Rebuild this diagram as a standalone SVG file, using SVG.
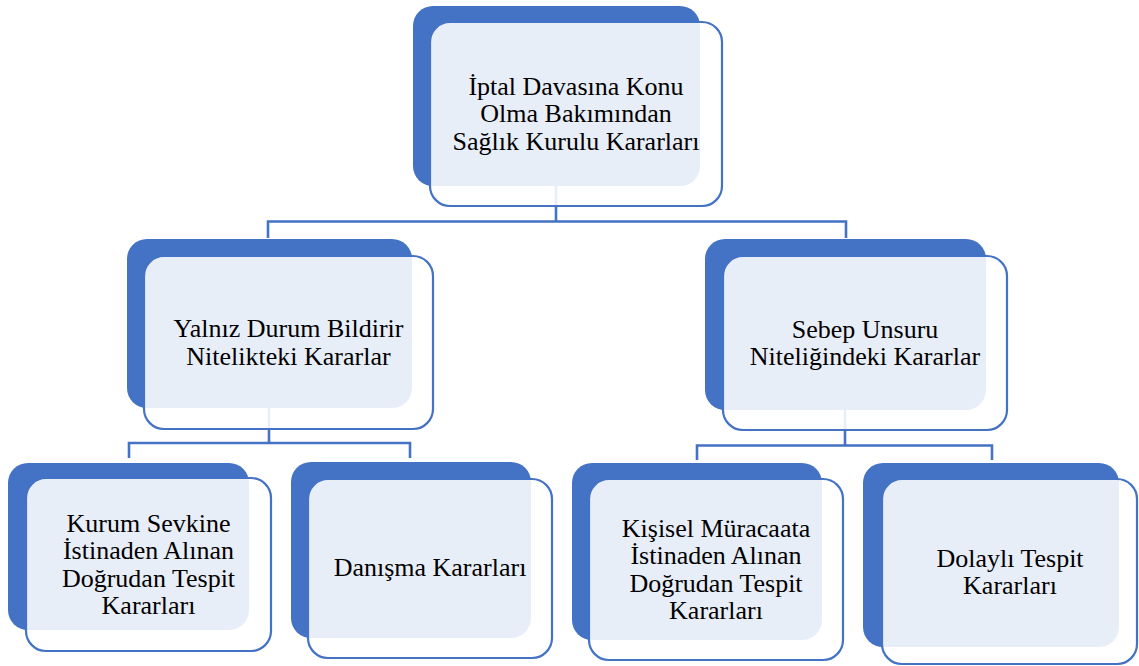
<svg xmlns="http://www.w3.org/2000/svg" width="1139" height="666" viewBox="0 0 1139 666">
<style>
.back{fill:#4472C4;}
.front{fill:#FFFFFF;fill-opacity:0.88;stroke:#4472C4;stroke-width:2.2;}
.conn{fill:none;stroke:#4472C4;stroke-width:2.6;}
.lbl{font-family:'Liberation Serif','Times New Roman',serif;font-size:26px;fill:#000000;text-anchor:middle;}
</style>
<rect width="1139" height="666" fill="#FFFFFF"/>
<g id="connectors">
<path class="conn" d="M556,186 V221.5 M268,238 V221.5 H846 V238"/>
<path class="conn" d="M269,408 V443 M129,458 V443 H410 V458"/>
<path class="conn" d="M845,410 V445.5 M697,460 V445.5 H992 V460"/>
</g>
<g id="node-root">
<rect class="back" x="413" y="6" width="287" height="180" rx="20"/>
<rect class="front" x="430" y="22" width="292" height="184" rx="20"/>
<text class="lbl" font-family="Liberation Serif, serif" x="576" y="94.5">İptal Davasına Konu</text>
<text class="lbl" font-family="Liberation Serif, serif" x="576" y="122">Olma Bakımından</text>
<text class="lbl" font-family="Liberation Serif, serif" x="576" y="149.5">Sağlık Kurulu Kararları</text>
</g>
<g id="node-yalniz">
<rect class="back" x="127" y="239" width="285" height="169" rx="20"/>
<rect class="front" x="144" y="256" width="289" height="173" rx="20"/>
<text class="lbl" x="288.5" y="337.3">Yalnız Durum Bildirir</text>
<text class="lbl" x="288.5" y="364.8">Nitelikteki Kararlar</text>
</g>
<g id="node-sebep">
<rect class="back" x="705" y="239" width="281" height="171" rx="20"/>
<rect class="front" x="723" y="256" width="284" height="174" rx="20"/>
<text class="lbl" x="865" y="337.5">Sebep Unsuru</text>
<text class="lbl" x="865" y="365">Niteliğindeki Kararlar</text>
</g>
<g id="node-kurum">
<rect class="back" x="8" y="463" width="241" height="167" rx="20"/>
<rect class="front" x="26" y="478" width="245" height="173" rx="20"/>
<text class="lbl" x="148.5" y="531.5">Kurum Sevkine</text>
<text class="lbl" x="148.5" y="559">İstinaden Alınan</text>
<text class="lbl" x="148.5" y="586.5">Doğrudan Tespit</text>
<text class="lbl" x="148.5" y="614">Kararları</text>
</g>
<g id="node-danisma">
<rect class="back" x="291" y="462" width="240" height="176" rx="20"/>
<rect class="front" x="308" y="479" width="244" height="179" rx="20"/>
<text class="lbl" x="430" y="576">Danışma Kararları</text>
</g>
<g id="node-kisisel">
<rect class="back" x="572" y="463" width="250" height="177" rx="20"/>
<rect class="front" x="589" y="479" width="254" height="181" rx="20"/>
<text class="lbl" x="716" y="536.8">Kişisel Müracaata</text>
<text class="lbl" x="716" y="564.3">İstinaden Alınan</text>
<text class="lbl" x="716" y="591.8">Doğrudan Tespit</text>
<text class="lbl" x="716" y="619.3">Kararları</text>
</g>
<g id="node-dolayli">
<rect class="back" x="863" y="463" width="256" height="184" rx="20"/>
<rect class="front" x="882" y="479" width="255" height="185" rx="20"/>
<text class="lbl" x="1010" y="566.8">Dolaylı Tespit</text>
<text class="lbl" x="1010" y="594.3">Kararları</text>
</g>
</svg>
